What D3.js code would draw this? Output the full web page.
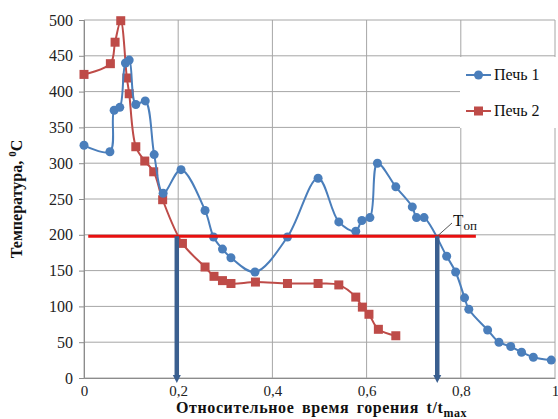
<!DOCTYPE html>
<html>
<head>
<meta charset="utf-8">
<script src="https://cdn.jsdelivr.net/npm/d3@7"></script>
<style>
  body { margin: 0; background: #fff; }
</style>
</head>
<body>
<div id="chart"></div>
<script>
// values
const pech1X = [0, 0.055, 0.064, 0.076, 0.088, 0.096, 0.110, 0.130, 0.149, 0.168, 0.206, 0.257, 0.275, 0.294,
  0.312, 0.363, 0.432, 0.497, 0.541, 0.577, 0.590, 0.607, 0.623, 0.662, 0.697, 0.706, 0.722, 0.770, 0.789,
  0.808, 0.817, 0.857, 0.881, 0.906, 0.929, 0.954, 0.992];
const pech1Y = [325, 316, 374, 378, 440, 444, 382, 387, 312, 258, 291, 234, 197, 180,
  168, 148, 197, 279, 218, 205, 220, 224, 300, 267, 239, 224, 224, 170, 148,
  112, 96, 67, 50, 44, 36, 29, 25];

const pech2X = [0, 0.056, 0.066, 0.078, 0.091, 0.096, 0.110, 0.129, 0.148, 0.167, 0.209, 0.257, 0.276, 0.294,
  0.312, 0.364, 0.432, 0.497, 0.541, 0.577, 0.591, 0.605, 0.625, 0.662];
const pech2Y = [424, 439, 469, 499, 419, 397, 323, 303, 288, 249, 188, 155, 142, 136,
  132, 134, 132, 132, 130, 113, 99, 89, 68, 59];

const seriesNames = ["Печь 1", "Печь 2"];
const xTicks = [0, 0.2, 0.4, 0.6, 0.8, 1];
const yTicks = [0, 50, 100, 150, 200, 250, 300, 350, 400, 450, 500];

// operating temperature line and the two marked times
const tOp = 198;
const tOpLineEnd = 0.832;
const arrowX = [0.197, 0.750];

const width = 558, height = 419;
const margin = {top: 20, right: 3, bottom: 41, left: 84};
const serif = "'Liberation Serif'";

const svg = d3.select("#chart").append("svg")
  .attr("width", width)
  .attr("height", height);

const x = d3.scaleLinear().domain([0, 1]).range([margin.left, width - margin.right]);
const y = d3.scaleLinear().domain([0, 500]).range([height - margin.bottom, margin.top]);

const fmt = d => d === 0 ? "0" : d === 1 ? "1" : String(d).replace(".", ",");

// grid
const grid = svg.append("g");
grid.selectAll("line.h").data(yTicks).join("line")
  .attr("class", "h")
  .attr("x1", x(0)).attr("x2", x(1))
  .attr("y1", d => y(d)).attr("y2", d => y(d))
  .attr("stroke", "#a6a6a6").attr("stroke-width", 1);
grid.selectAll("line.v").data(xTicks).join("line")
  .attr("class", "v")
  .attr("x1", d => x(d)).attr("x2", d => x(d))
  .attr("y1", y(0)).attr("y2", y(500))
  .attr("stroke", "#a6a6a6").attr("stroke-width", 1);

// axes
const yAxis = svg.append("g")
  .attr("transform", `translate(${x(0)},0)`)
  .call(d3.axisLeft(y).tickValues(yTicks).tickSize(5).tickPadding(6).tickFormat(d3.format("d")));
const xAxis = svg.append("g")
  .attr("transform", `translate(0,${y(0)})`)
  .call(d3.axisBottom(x).tickValues(xTicks).tickSize(0).tickPadding(7).tickFormat(fmt));
[yAxis, xAxis].forEach(a => {
  a.attr("font-family", null);
  a.select(".domain").attr("stroke", "#8c8c8c");
  a.selectAll(".tick line").attr("stroke", "#8c8c8c");
  a.selectAll("text").attr("font-size", 16).attr("fill", "#222")
    .style("font-family", serif);
});
xAxis.selectAll("text").attr("font-size", 15);

// series
const line = d3.line().x(d => x(d[0])).y(d => y(d[1])).curve(d3.curveCatmullRom);
const blue = "#4a7ebb", red = "#be4b48";
const data1 = pech1X.map((d, i) => [d, pech1Y[i]]);
const data2 = pech2X.map((d, i) => [d, pech2Y[i]]);

svg.append("path").datum(data2)
  .attr("d", line).attr("fill", "none").attr("stroke", red).attr("stroke-width", 2);
svg.append("g").selectAll("rect").data(data2).join("rect")
  .attr("x", d => x(d[0]) - 4.5).attr("y", d => y(d[1]) - 4.5)
  .attr("width", 9).attr("height", 9).attr("fill", red);

svg.append("path").datum(data1)
  .attr("d", line).attr("fill", "none").attr("stroke", blue).attr("stroke-width", 2);
svg.append("g").selectAll("circle").data(data1).join("circle")
  .attr("cx", d => x(d[0])).attr("cy", d => y(d[1])).attr("r", 4.5).attr("fill", blue);

// operating temperature line
svg.append("line")
  .attr("x1", x(0.009)).attr("x2", x(tOpLineEnd))
  .attr("y1", y(tOp)).attr("y2", y(tOp))
  .attr("stroke", "#e8100f").attr("stroke-width", 3);

// arrows down to the time axis
const arrowCol = "#3a5f8f";
arrowX.forEach(a => {
  svg.append("line")
    .attr("x1", x(a)).attr("x2", x(a))
    .attr("y1", y(tOp)).attr("y2", y(0) - 2)
    .attr("stroke", arrowCol).attr("stroke-width", 4.5);
  svg.append("path")
    .attr("d", `M${x(a) - 4},${y(0) - 3} L${x(a) + 4},${y(0) - 3} L${x(a)},${y(0) + 5} Z`)
    .attr("fill", arrowCol);
});

// T_op label with leader
svg.append("line")
  .attr("x1", x(0.750)).attr("y1", y(tOp))
  .attr("x2", 452).attr("y2", 223)
  .attr("stroke", "#555").attr("stroke-width", 1);
const tLabel = svg.append("text").attr("x", 453).attr("y", 226)
  .attr("font-size", 17).attr("fill", "#111").style("font-family", serif);
tLabel.append("tspan").text("T");
tLabel.append("tspan").attr("dy", 4).attr("font-size", 13).text("оп");

// legend
const legend = svg.append("g");
legend.append("rect").attr("x", 460).attr("y", 57).attr("width", 96).attr("height", 71).attr("fill", "#fff");
seriesNames.forEach((n, i) => {
  const ly = 75 + i * 36;
  const col = i === 0 ? blue : red;
  legend.append("line").attr("x1", 466).attr("x2", 491).attr("y1", ly).attr("y2", ly)
    .attr("stroke", col).attr("stroke-width", 2);
  if (i === 0) {
    legend.append("circle").attr("cx", 478.5).attr("cy", ly).attr("r", 4.5).attr("fill", col);
  } else {
    legend.append("rect").attr("x", 474).attr("y", ly - 4.5).attr("width", 9).attr("height", 9).attr("fill", col);
  }
  legend.append("text").attr("x", 494).attr("y", ly + 5)
    .attr("font-size", 16).attr("fill", "#111").style("font-family", serif).text(n);
});

// axis titles
const yTitle = svg.append("text")
  .attr("transform", `translate(22,${y(250)}) rotate(-90)`)
  .attr("text-anchor", "middle").style("font-family", serif)
  .attr("font-size", 16).attr("font-weight", "bold").attr("fill", "#111");
yTitle.append("tspan").text("Температура, ");
yTitle.append("tspan").attr("dy", -6).attr("font-size", 11).text("0");
yTitle.append("tspan").attr("dy", 6).text("C");

const xTitle = svg.append("text")
  .attr("x", 176).attr("y", 413).style("font-family", serif)
  .attr("font-size", 16).attr("font-weight", "bold").attr("fill", "#111")
  .attr("word-spacing", 3).attr("letter-spacing", 0.6);
xTitle.append("tspan").text("Относительное время горения t/t");
xTitle.append("tspan").attr("dy", 4).attr("font-size", 12).text("max");
</script>
</body>
</html>
